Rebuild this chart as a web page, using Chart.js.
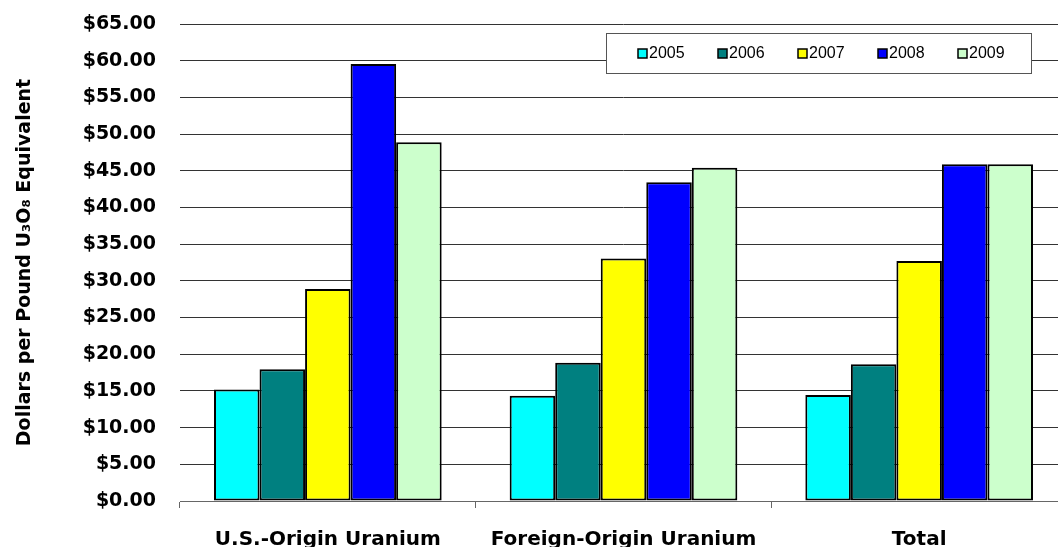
<!DOCTYPE html>
<html>
<head>
<meta charset="utf-8">
<script src="https://cdn.jsdelivr.net/npm/chart.js@4/dist/chart.umd.min.js"></script>
<style>
  html, body { margin: 0; padding: 0; overflow: hidden; background: #fff; }
  #wrap { width: 1068px; height: 560px; position: relative; }
</style>
</head>
<body>
<div id="wrap"><canvas id="uranium_price"></canvas></div>
<script>
const categories = ['U.S.-Origin Uranium', 'Foreign-Origin Uranium', 'Total'];
const years = ['2005', '2006', '2007', '2008', '2009'];
const price2005 = [15.20, 14.35, 14.45];
const price2006 = [17.95, 18.85, 18.65];
const price2007 = [28.90, 33.05, 32.70];
const price2008 = [59.55, 43.45, 45.90];
const price2009 = [48.90, 45.40, 45.90];
const yMin = 0, yMax = 65, yStep = 5;

const prices = [price2005, price2006, price2007, price2008, price2009];
const colors = ['#00FFFF', '#008080', '#FFFF00', '#0000FF', '#CCFFCC'];

// legend drawn inside the plot, in a bordered box (Excel style)
const boxLegend = {
  id: 'boxLegend',
  afterDraw(chart) {
    const ctx = chart.ctx;
    const area = chart.chartArea;
    const left = area.right - 461, top = area.top + 9;
    const w = 425, h = 40;
    ctx.save();
    ctx.fillStyle = '#fff';
    ctx.fillRect(left, top, w, h);
    ctx.strokeStyle = '#555';
    ctx.lineWidth = 1;
    ctx.strokeRect(left + 0.5, top + 0.5, w, h);
    ctx.font = "16px 'Liberation Sans', Arial, sans-serif";
    ctx.textBaseline = 'middle';
    chart.data.datasets.forEach((ds, i) => {
      const x = left + 32 + i * 80;
      const y = top + 21;
      ctx.fillStyle = ds.backgroundColor;
      ctx.fillRect(x, y - 5, 9, 9);
      ctx.strokeStyle = '#000';
      ctx.lineWidth = 1.5;
      ctx.strokeRect(x, y - 5, 9, 9);
      ctx.fillStyle = '#000';
      ctx.fillText(ds.label, x + 11, y);
    });
    ctx.restore();
  }
};

const ctx = document.getElementById('uranium_price').getContext('2d');
new Chart(ctx, {
  type: 'bar',
  data: {
    labels: categories,
    datasets: years.map((y, i) => ({
      label: y,
      data: prices[i],
      backgroundColor: colors[i],
      borderColor: '#000',
      borderWidth: 2,
      borderSkipped: false,
      categoryPercentage: 0.77,
      barPercentage: 1.0
    }))
  },
  options: {
    responsive: true,
    maintainAspectRatio: false,
    animation: false,
    layout: { padding: { top: 24, left: 0, right: 1, bottom: 0 } },
    plugins: {
      legend: { display: false },
      tooltip: { enabled: false }
    },
    scales: {
      x: {
        grid: { display: true, drawOnChartArea: false, drawTicks: true, tickLength: 7, color: '#666', offset: true },
        border: { display: true, color: '#666', width: 1 },
        ticks: {
          color: '#000', padding: 20,
          font: { family: "'DejaVu Sans', sans-serif", weight: 'bold', size: 20 }
        },
        afterFit: (s) => { s.height = 59; }
      },
      y: {
        min: yMin,
        max: yMax,
        grid: { color: '#333', drawTicks: false },
        border: { display: false },
        ticks: {
          stepSize: yStep,
          padding: 24,
          color: '#000',
          font: { family: "'DejaVu Sans', sans-serif", weight: 'bold', size: 19 },
          callback: (v) => '$' + Number(v).toFixed(2)
        },
        title: {
          display: true,
          text: 'Dollars per Pound U₃O₈ Equivalent',
          color: '#000',
          padding: { top: 14, bottom: 0 },
          font: { family: "'DejaVu Sans', sans-serif", weight: 'bold', size: 19 }
        },
        afterFit: (s) => {
          s.width = 180;
          // tick padding would otherwise push the plot top down
          s.paddingTop = 0;
          s.paddingBottom = 0;
        }
      }
    }
  },
  plugins: [boxLegend]
});
</script>
</body>
</html>
